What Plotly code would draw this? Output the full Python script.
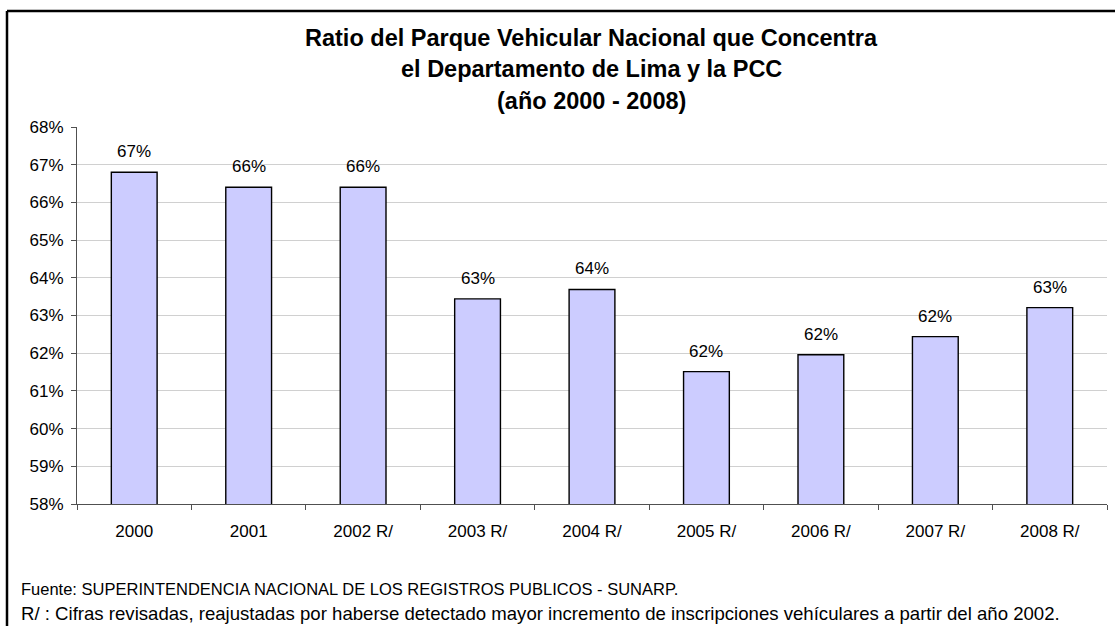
import plotly.graph_objects as go

# ---- data ----
years = ["2000", "2001", "2002 R/", "2003 R/", "2004 R/", "2005 R/", "2006 R/", "2007 R/", "2008 R/"]
ratios = [66.8, 66.4, 66.4, 63.44, 63.69, 61.51, 61.96, 62.44, 63.21]
y_ticks = list(range(58, 69))

title_lines = [
    "Ratio del Parque Vehicular Nacional que Concentra",
    "el Departamento de Lima y la PCC",
    "(año 2000 - 2008)",
]
footer_lines = [
    "Fuente: SUPERINTENDENCIA NACIONAL DE LOS REGISTROS PUBLICOS - SUNARP.",
    "R/ : Cifras revisadas, reajustadas por haberse detectado mayor incremento de inscripciones vehículares a partir del año 2002.",
]

FONT = "Arial, Liberation Sans, sans-serif"
W, H = 1115, 626
L, R, T, B = 77, 8, 127, 122
pw, ph = W - L - R, H - T - B


def px_x(px):
    return (px - L) / pw


def px_y(py):
    return (H - B - py) / ph


fig = go.Figure()
fig.add_trace(go.Bar(
    x=years, y=ratios, width=0.4,
    marker=dict(color="#CCCCFF", line=dict(color="#000000", width=1.4)),
    hoverinfo="skip", showlegend=False,
))

annotations = []
# data labels (category index positions)
for i, v in enumerate(ratios):
    annotations.append(dict(
        x=i, y=v, xref="x", yref="y", text=f"{round(v)}%", showarrow=False,
        yanchor="bottom", yshift=9, font=dict(family=FONT, size=17, color="#000000"),
    ))
# title
for line, py in zip(title_lines, [38, 69.5, 101]):
    annotations.append(dict(
        x=px_x(591), y=px_y(py), xref="paper", yref="paper", text=f"<b>{line}</b>",
        showarrow=False, xanchor="center", yanchor="middle",
        font=dict(family=FONT, size=23.5, color="#000000"),
    ))
# footer
for line, py, fs in zip(footer_lines, [589, 613], [16.5, 18.6]):
    annotations.append(dict(
        x=px_x(19), y=px_y(py), xref="paper", yref="paper", text=line,
        showarrow=False, xanchor="left", yanchor="middle",
        font=dict(family=FONT, size=fs, color="#000000"),
    ))

shapes = [
    dict(type="line", xref="paper", yref="paper", x0=px_x(7), x1=px_x(1120),
         y0=px_y(11), y1=px_y(11), line=dict(color="#000000", width=2.5)),
    dict(type="line", xref="paper", yref="paper", x0=px_x(7), x1=px_x(7),
         y0=px_y(11), y1=px_y(640), line=dict(color="#000000", width=2.5)),
]

fig.update_layout(
    width=W, height=H,
    margin=dict(l=L, r=R, t=T, b=B, pad=0, autoexpand=False),
    paper_bgcolor="white", plot_bgcolor="white",
    font=dict(family=FONT, size=17, color="#000000"),
    annotations=annotations,
    shapes=shapes,
    xaxis=dict(
        type="category", range=[-0.5, len(years) - 0.5],
        showline=True, linecolor="#505050", linewidth=1,
        ticks="outside", tickson="boundaries", ticklen=5, tickcolor="#505050",
        tickfont=dict(family=FONT, size=17), ticklabelstandoff=12,
        showgrid=False, zeroline=False, fixedrange=True, automargin=False,
    ),
    yaxis=dict(
        range=[58, 68], tickvals=y_ticks, ticktext=[f"{t}%" for t in y_ticks],
        showline=True, linecolor="#505050", linewidth=1,
        ticks="outside", ticklen=5, tickcolor="#505050",
        tickfont=dict(family=FONT, size=17), ticklabelstandoff=4,
        showgrid=True, gridcolor="#D0D0D0", gridwidth=1,
        zeroline=False, fixedrange=True, automargin=False,
    ),
)

fig.write_html(
    "out.html",
    config={"displayModeBar": False},
    post_script="document.body.style.margin='0px';document.body.style.overflow='hidden';",
)
